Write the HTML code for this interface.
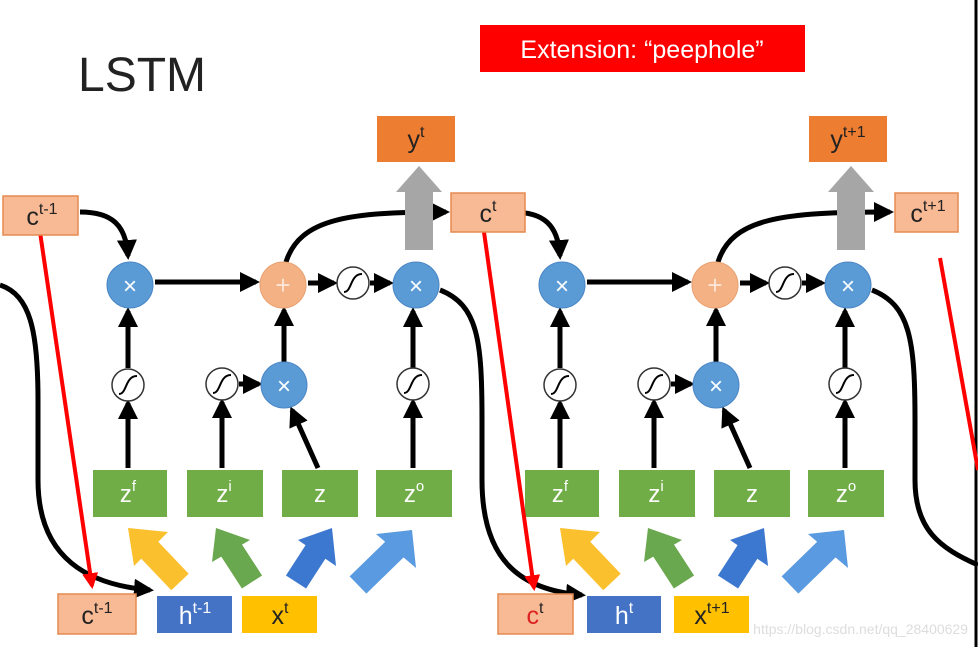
<!DOCTYPE html>
<html><head><meta charset="utf-8"><style>
html,body{margin:0;padding:0;background:#fff;}
svg{display:block;font-family:"Liberation Sans",sans-serif;}
</style></head><body>
<svg width="978" height="647" viewBox="0 0 978 647" xmlns="http://www.w3.org/2000/svg">
<defs>
<marker id="ah" viewBox="0 0 10 10" refX="8" refY="5" markerWidth="4" markerHeight="4" orient="auto" markerUnits="strokeWidth"><path d="M0,0 L10,5 L0,10 z" fill="#000"/></marker>
<marker id="rh" viewBox="0 0 10 10" refX="8" refY="5" markerWidth="4" markerHeight="4" orient="auto" markerUnits="strokeWidth"><path d="M0,0 L10,5 L0,10 z" fill="#f00"/></marker>
</defs>
<rect width="978" height="647" fill="#fff"/>
<line x1="976" y1="0" x2="976" y2="647" stroke="#000" stroke-width="3"/>
<text x="78" y="91" font-size="48" fill="#222">LSTM</text>
<rect x="480" y="25" width="325" height="47" fill="#f00"/>
<text x="642" y="58" font-size="25" fill="#fff" text-anchor="middle">Extension: “peephole”</text>

<!-- left incoming curve -->
<path d="M0,285 C30,295 38,330 38,400 L38,480 C38,560 90,585 150,590" fill="none" stroke="#000" stroke-width="5" marker-end="url(#ah)"/>
<!-- right outgoing curve -->
<path d="M872,290 C910,305 915,340 915,420 L915,480 C915,530 940,548 978,565" fill="none" stroke="#000" stroke-width="5"/>
<line x1="940" y1="258" x2="978" y2="470" stroke="#f00" stroke-width="4"/>

<g id="c1">
<path d="M80,212 C112,212 126,225 128,256" fill="none" stroke="#000" stroke-width="5" marker-end="url(#ah)"/>
<line x1="155" y1="282" x2="256" y2="282" stroke="#000" stroke-width="5" marker-end="url(#ah)"/>
<line x1="308" y1="283" x2="334" y2="283" stroke="#000" stroke-width="5" marker-end="url(#ah)"/>
<line x1="370" y1="283" x2="390" y2="283" stroke="#000" stroke-width="5" marker-end="url(#ah)"/>
<path d="M286,262 C300,218 350,212 446,212" fill="none" stroke="#000" stroke-width="5" marker-end="url(#ah)"/>
<path d="M440,290 C478,305 482,340 482,420 L482,480 C482,560 520,590 582,595" fill="none" stroke="#000" stroke-width="5" marker-end="url(#ah)"/>
<rect x="405" y="190" width="28" height="60" fill="#a6a6a6"/>
<polygon points="396,192 442,192 419,166" fill="#a6a6a6"/>
<line x1="128" y1="368" x2="128" y2="311" stroke="#000" stroke-width="5" marker-end="url(#ah)"/>
<line x1="128" y1="468" x2="128" y2="403" stroke="#000" stroke-width="5" marker-end="url(#ah)"/>
<line x1="222" y1="468" x2="222" y2="402" stroke="#000" stroke-width="5" marker-end="url(#ah)"/>
<line x1="239" y1="384" x2="259" y2="384" stroke="#000" stroke-width="5" marker-end="url(#ah)"/>
<line x1="284" y1="362" x2="284" y2="310" stroke="#000" stroke-width="5" marker-end="url(#ah)"/>
<line x1="318" y1="468" x2="292" y2="410" stroke="#000" stroke-width="5" marker-end="url(#ah)"/>
<line x1="413" y1="468" x2="413" y2="402" stroke="#000" stroke-width="5" marker-end="url(#ah)"/>
<line x1="413" y1="368" x2="413" y2="311" stroke="#000" stroke-width="5" marker-end="url(#ah)"/>
<circle cx="130" cy="285" r="23" fill="#5b9bd5" stroke="#4a86c5"/><text x="130" y="294" font-size="24" fill="#fff" text-anchor="middle">×</text>
<circle cx="283" cy="285" r="23" fill="#f4b183" stroke="#e8a070"/><text x="283" y="294" font-size="26" fill="#fde6d6" text-anchor="middle">+</text>
<circle cx="416" cy="285" r="23" fill="#5b9bd5" stroke="#4a86c5"/><text x="416" y="294" font-size="24" fill="#fff" text-anchor="middle">×</text>
<circle cx="284" cy="385" r="23" fill="#5b9bd5" stroke="#4a86c5"/><text x="284" y="394" font-size="24" fill="#fff" text-anchor="middle">×</text>
<g fill="#fff" stroke="#333" stroke-width="1.5">
<circle cx="353" cy="283" r="16"/><circle cx="128" cy="385" r="16"/><circle cx="222" cy="384" r="16"/><circle cx="413" cy="384" r="16"/></g>
<g fill="none" stroke="#000" stroke-width="2">
<path d="M344,292 C352,292 350,274 362,274"/><path d="M119,394 C127,394 125,376 137,376"/><path d="M213,393 C221,393 219,375 231,375"/><path d="M404,393 C412,393 410,375 422,375"/></g>
<g fill="#70ad47"><rect x="93" y="470" width="74" height="47"/><rect x="187" y="470" width="76" height="47"/><rect x="282" y="470" width="76" height="47"/><rect x="376" y="470" width="76" height="47"/></g>
<g fill="#fff" font-size="24" text-anchor="middle">
<text x="128" y="502">z<tspan font-size="15" dy="-11">f</tspan></text>
<text x="224" y="502">z<tspan font-size="15" dy="-11">i</tspan></text>
<text x="320" y="502">z</text>
<text x="414" y="502">z<tspan font-size="15" dy="-11">o</tspan></text></g>
<line x1="180" y1="582" x2="140" y2="540" stroke="#fbc02d" stroke-width="24"/><polygon points="128,528 168,532 134,566" fill="#fbc02d"/>
<line x1="252" y1="582" x2="228" y2="545" stroke="#6aa84f" stroke-width="24"/><polygon points="216,528 250,540 212,562" fill="#6aa84f"/>
<line x1="296" y1="582" x2="320" y2="545" stroke="#3d78d0" stroke-width="24"/><polygon points="332,528 336,566 298,540" fill="#3d78d0"/>
<line x1="358" y1="585" x2="396" y2="548" stroke="#5a9ae0" stroke-width="24"/><polygon points="412,530 416,568 376,534" fill="#5a9ae0"/>
</g>

<g transform="translate(432,0)">
<path d="M80,212 C112,212 126,225 128,256" fill="none" stroke="#000" stroke-width="5" marker-end="url(#ah)"/>
<line x1="155" y1="282" x2="256" y2="282" stroke="#000" stroke-width="5" marker-end="url(#ah)"/>
<line x1="308" y1="283" x2="334" y2="283" stroke="#000" stroke-width="5" marker-end="url(#ah)"/>
<line x1="370" y1="283" x2="390" y2="283" stroke="#000" stroke-width="5" marker-end="url(#ah)"/>
<path d="M286,262 C300,218 350,212 458,212" fill="none" stroke="#000" stroke-width="5" marker-end="url(#ah)"/>
<rect x="405" y="190" width="28" height="60" fill="#a6a6a6"/>
<polygon points="396,192 442,192 419,166" fill="#a6a6a6"/>
<line x1="128" y1="368" x2="128" y2="311" stroke="#000" stroke-width="5" marker-end="url(#ah)"/>
<line x1="128" y1="468" x2="128" y2="403" stroke="#000" stroke-width="5" marker-end="url(#ah)"/>
<line x1="222" y1="468" x2="222" y2="402" stroke="#000" stroke-width="5" marker-end="url(#ah)"/>
<line x1="239" y1="384" x2="259" y2="384" stroke="#000" stroke-width="5" marker-end="url(#ah)"/>
<line x1="284" y1="362" x2="284" y2="310" stroke="#000" stroke-width="5" marker-end="url(#ah)"/>
<line x1="318" y1="468" x2="292" y2="410" stroke="#000" stroke-width="5" marker-end="url(#ah)"/>
<line x1="413" y1="468" x2="413" y2="402" stroke="#000" stroke-width="5" marker-end="url(#ah)"/>
<line x1="413" y1="368" x2="413" y2="311" stroke="#000" stroke-width="5" marker-end="url(#ah)"/>
<circle cx="130" cy="285" r="23" fill="#5b9bd5" stroke="#4a86c5"/><text x="130" y="294" font-size="24" fill="#fff" text-anchor="middle">×</text>
<circle cx="283" cy="285" r="23" fill="#f4b183" stroke="#e8a070"/><text x="283" y="294" font-size="26" fill="#fde6d6" text-anchor="middle">+</text>
<circle cx="416" cy="285" r="23" fill="#5b9bd5" stroke="#4a86c5"/><text x="416" y="294" font-size="24" fill="#fff" text-anchor="middle">×</text>
<circle cx="284" cy="385" r="23" fill="#5b9bd5" stroke="#4a86c5"/><text x="284" y="394" font-size="24" fill="#fff" text-anchor="middle">×</text>
<g fill="#fff" stroke="#333" stroke-width="1.5">
<circle cx="353" cy="283" r="16"/><circle cx="128" cy="385" r="16"/><circle cx="222" cy="384" r="16"/><circle cx="413" cy="384" r="16"/></g>
<g fill="none" stroke="#000" stroke-width="2">
<path d="M344,292 C352,292 350,274 362,274"/><path d="M119,394 C127,394 125,376 137,376"/><path d="M213,393 C221,393 219,375 231,375"/><path d="M404,393 C412,393 410,375 422,375"/></g>
<g fill="#70ad47"><rect x="93" y="470" width="74" height="47"/><rect x="187" y="470" width="76" height="47"/><rect x="282" y="470" width="76" height="47"/><rect x="376" y="470" width="76" height="47"/></g>
<g fill="#fff" font-size="24" text-anchor="middle">
<text x="128" y="502">z<tspan font-size="15" dy="-11">f</tspan></text>
<text x="224" y="502">z<tspan font-size="15" dy="-11">i</tspan></text>
<text x="320" y="502">z</text>
<text x="414" y="502">z<tspan font-size="15" dy="-11">o</tspan></text></g>
<line x1="180" y1="582" x2="140" y2="540" stroke="#fbc02d" stroke-width="24"/><polygon points="128,528 168,532 134,566" fill="#fbc02d"/>
<line x1="252" y1="582" x2="228" y2="545" stroke="#6aa84f" stroke-width="24"/><polygon points="216,528 250,540 212,562" fill="#6aa84f"/>
<line x1="296" y1="582" x2="320" y2="545" stroke="#3d78d0" stroke-width="24"/><polygon points="332,528 336,566 298,540" fill="#3d78d0"/>
<line x1="358" y1="585" x2="396" y2="548" stroke="#5a9ae0" stroke-width="24"/><polygon points="412,530 416,568 376,534" fill="#5a9ae0"/>
</g>

<!-- red peephole lines -->
<line x1="40" y1="232" x2="92" y2="586" stroke="#f00" stroke-width="4" marker-end="url(#rh)"/>
<line x1="484" y1="232" x2="534" y2="588" stroke="#f00" stroke-width="4" marker-end="url(#rh)"/>

<!-- boxes -->
<g stroke="#e58a50" stroke-width="1.5" fill="#f8b995">
<rect x="3" y="196" width="75" height="39"/><rect x="451" y="193" width="74" height="39"/><rect x="895" y="193" width="63" height="39"/>
<rect x="58" y="594" width="78" height="40"/><rect x="498" y="594" width="75" height="40"/></g>
<rect x="377" y="116" width="78" height="46" fill="#ed7d31"/>
<rect x="809" y="116" width="78" height="46" fill="#ed7d31"/>
<rect x="157" y="596" width="75" height="37" fill="#4472c4"/>
<rect x="587" y="596" width="74" height="37" fill="#4472c4"/>
<rect x="242" y="596" width="75" height="37" fill="#ffc000"/>
<rect x="674" y="596" width="75" height="37" fill="#ffc000"/>
<g font-size="25" fill="#222" text-anchor="middle">
<text x="42" y="225">c<tspan font-size="16" dy="-11">t-1</tspan></text>
<text x="488" y="222">c<tspan font-size="16" dy="-11">t</tspan></text>
<text x="928" y="222">c<tspan font-size="16" dy="-11">t+1</tspan></text>
<text x="97" y="624">c<tspan font-size="16" dy="-11">t-1</tspan></text>
<text x="535" y="624" fill="#d22">c<tspan font-size="16" dy="-11" fill="#222">t</tspan></text>
<text x="416" y="148">y<tspan font-size="16" dy="-11">t</tspan></text>
<text x="848" y="148">y<tspan font-size="16" dy="-11">t+1</tspan></text>
<text x="280" y="624">x<tspan font-size="16" dy="-11">t</tspan></text>
<text x="712" y="624">x<tspan font-size="16" dy="-11">t+1</tspan></text>
<text x="195" y="624" fill="#fff">h<tspan font-size="16" dy="-11">t-1</tspan></text>
<text x="624" y="624" fill="#fff">h<tspan font-size="16" dy="-11">t</tspan></text>
</g>
<text x="968" y="634" font-size="14" fill="#ddd" text-anchor="end">https://blog.csdn.net/qq_28400629</text>
</svg>
</body></html>
